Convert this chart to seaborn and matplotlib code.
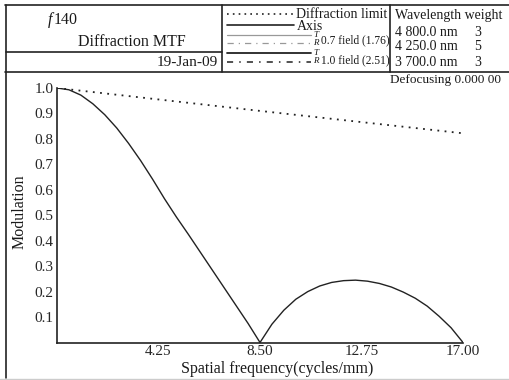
import numpy as np
import pandas as pd
import matplotlib
matplotlib.use("Agg")
import matplotlib.pyplot as plt
from matplotlib.lines import Line2D
import seaborn as sns

# data
freq = [0.0, 0.5, 1.0, 1.5, 2.0, 2.5, 3.0, 3.5, 4.0, 4.5, 5.0, 5.5, 6.0, 6.5,
        7.0, 7.5, 8.0, 8.5, 9.0, 9.5, 10.0, 10.5, 11.0, 11.5, 12.0, 12.5,
        13.0, 13.5, 14.0, 14.5, 15.0, 15.5, 16.0, 16.5, 17.0]
mtf = [1.0, 0.993, 0.972, 0.938, 0.895, 0.843, 0.782, 0.715, 0.642, 0.565,
       0.493, 0.425, 0.355, 0.285, 0.215, 0.145, 0.075, 0.0, 0.072, 0.127,
       0.17, 0.2, 0.222, 0.236, 0.243, 0.245, 0.241, 0.232, 0.218, 0.198,
       0.174, 0.143, 0.103, 0.058, 0.0]
diff_freq = [0.0, 4.25, 8.5, 12.75, 17.0]
diff_mtf = [1.0, 0.955, 0.91, 0.866, 0.822]

xticks = [4.25, 8.50, 12.75, 17.00]
yticks = [0.1, 0.2, 0.3, 0.4, 0.5, 0.6, 0.7, 0.8, 0.9, 1.0]

legend_labels = ["Diffraction limit", "Axis", "0.7 field (1.76)", "1.0 field (2.51)"]
wavelengths = ["4 800.0 nm", "4 250.0 nm", "3 700.0 nm"]
weights = ["3", "5", "3"]

W, H = 509, 380
sns.set_style("white")
plt.rcParams["font.family"] = ["Liberation Serif", "DejaVu Serif"]
plt.rcParams["text.color"] = "#1a1a1a"

fig = plt.figure(figsize=(W / 100, H / 100), dpi=100)


def px(x, y):
    # pixel coords (top-left origin) -> figure fraction
    return x / W, 1 - y / H


def hline(x0, x1, y, **kw):
    a, b = px(x0, y)
    c, _ = px(x1, y)
    fig.add_artist(Line2D([a, c], [b, b], transform=fig.transFigure, **kw))


def vline(x, y0, y1, **kw):
    a, b = px(x, y0)
    _, d = px(x, y1)
    fig.add_artist(Line2D([a, a], [b, d], transform=fig.transFigure, **kw))


def text(x, y, s, **kw):
    a, b = px(x, y)
    fig.text(a, b, s, va="center", **kw)


ax = fig.add_axes([57 / W, 1 - 342.5 / H, 406 / W, 254.5 / H])
df = pd.DataFrame({"freq": freq, "mtf": mtf})
dl = pd.DataFrame({"freq": diff_freq, "mtf": diff_mtf})
sns.lineplot(data=dl, x="freq", y="mtf", ax=ax, color="#222222", lw=1.3,
             linestyle=(0, (1, 3)))
sns.lineplot(data=df, x="freq", y="mtf", ax=ax, color="#222222", lw=1.0)

ax.set_xlim(0, 17)
ax.set_ylim(0, 1.0)
ax.set_xticks(xticks)
ax.set_xticklabels(["%.2f" % v for v in xticks])
ax.set_yticks(yticks)
ax.set_yticklabels(["%.1f" % v for v in yticks])
ax.tick_params(axis="x", direction="in", length=3, width=1, labelsize=11, pad=2)
ax.tick_params(axis="y", direction="out", length=2, width=1, labelsize=11, pad=0.5)
ax.set_xlabel("")
ax.set_ylabel("")
for s in ["top", "right"]:
    ax.spines[s].set_visible(False)
for s in ["left", "bottom"]:
    ax.spines[s].set_color("#222222")
    ax.spines[s].set_linewidth(1.2)
ax.patch.set_alpha(0)

text(277, 369, "Spatial frequency(cycles/mm)", ha="center", fontsize=11.5)
text(20, 212, "Modulation", ha="center", rotation=90, fontsize=11.5)

# frame and header boxes
k = dict(color="#222222", lw=1.2)
hline(5, 509, 5, **k)
hline(5, 509, 72, **k)
hline(6, 222, 52, **k)
vline(6, 5, 378, **k)
vline(222, 5, 72, **k)
vline(390, 5, 72, **k)
hline(0, 509, 378.5, color="#cccccc", lw=1)

text(48, 20, "f", ha="left", fontsize=11.5, style="italic")
text(54, 20, "140", ha="left", fontsize=11.5)
text(132, 42, "Diffraction MTF", ha="center", fontsize=11.5)
text(218, 62, "19-Jan-09", ha="right", fontsize=11)

# legend in the header
hline(227, 294, 14, color="#222222", lw=1.2, linestyle=(0, (1, 2.5)))
hline(227, 294, 24.5, color="#222222", lw=1.2)
hline(227, 311, 35, color="#999999", lw=0.9)
hline(227, 311, 43, color="#999999", lw=0.9, linestyle=(0, (5, 4, 1, 4)))
hline(227, 311, 52.5, color="#222222", lw=1.3)
hline(227, 311, 62, color="#222222", lw=1.1, linestyle=(0, (4, 4, 1, 4)))
text(296, 14, legend_labels[0], ha="left", fontsize=10)
text(297, 26, legend_labels[1], ha="left", fontsize=10)
text(313, 35, "T", ha="left", fontsize=6.5, style="italic")
text(313, 43, "R", ha="left", fontsize=6.5, style="italic")
text(321, 40, legend_labels[2], ha="left", fontsize=8.3)
text(313, 53, "T", ha="left", fontsize=6.5, style="italic")
text(313, 61, "R", ha="left", fontsize=6.5, style="italic")
text(321, 60, legend_labels[3], ha="left", fontsize=8.3)

text(395, 15, "Wavelength weight", ha="left", fontsize=10)
for i, (wl, wt) in enumerate(zip(wavelengths, weights)):
    y = 32 + 15 * i
    text(395, y, wl, ha="left", fontsize=10)
    text(478, y, wt, ha="center", fontsize=10)

text(390, 80, "Defocusing 0.000 00", ha="left", fontsize=9.5)

fig.savefig("out.png", dpi=100)
